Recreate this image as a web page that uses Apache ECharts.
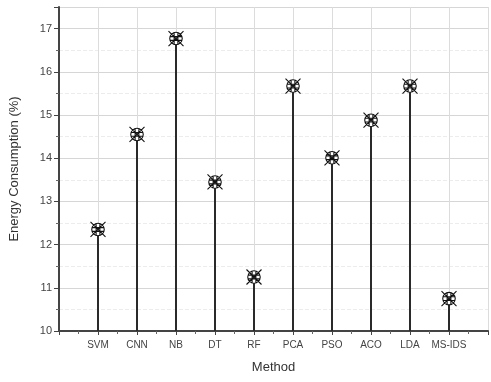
<!DOCTYPE html>
<html>
<head>
<meta charset="utf-8">
<script src="https://cdn.jsdelivr.net/npm/echarts@6/dist/echarts.min.js"></script>
<style>html,body{margin:0;padding:0;background:#fff}#c{width:491px;height:382px}</style>
</head>
<body>
<div id="c"></div>
<script>
const categories = ['SVM','CNN','NB','DT','RF','PCA','PSO','ACO','LDA','MS-IDS'];
const energy = [12.35, 14.55, 16.77, 13.45, 11.25, 15.67, 14.01, 14.88, 15.67, 10.75];
const yTicks = [10, 11, 12, 13, 14, 15, 16, 17];

const pts = categories.map((c, i) => [i + 1, energy[i]]);
const markerPath = 'path://M8 3 A5 5 0 1 1 7.99 3 Z M2 2 L14 14 M14 2 L2 14 M3.2 6.5 L12.8 6.5 M3.2 9.5 L12.8 9.5 M6.5 3.2 L6.5 12.8 M9.5 3.2 L9.5 12.8';

const chart = echarts.init(document.getElementById('c'));
chart.setOption({
  animation: false,
  backgroundColor: '#fff',
  grid: { left: 57, top: 7, right: -6, bottom: 51 },
  xAxis: {
    type: 'value', min: 0, max: 11, interval: 1,
    name: 'Method', nameLocation: 'middle', nameGap: 30,
    nameTextStyle: { fontFamily: 'Liberation Sans, Arial', fontSize: 13, color: '#333' },
    axisLine: { show: true, lineStyle: { color: '#444', width: 2 } },
    axisTick: { show: true, length: 4, lineStyle: { color: '#444', width: 1 } },
    minorTick: { show: true, splitNumber: 2, length: 3, lineStyle: { color: '#666' } },
    axisLabel: {
      margin: 9, fontFamily: 'Liberation Sans, Arial', fontSize: 10, color: '#444',
      formatter: v => (v >= 1 && v <= categories.length && Number.isInteger(v)) ? categories[v - 1] : ''
    },
    splitLine: { show: true, lineStyle: { color: '#dcdcdc', width: 1 } }
  },
  yAxis: {
    type: 'value', min: 10, max: 17.5, interval: 1,
    name: 'Energy Consumption (%)', nameLocation: 'middle', nameGap: 38,
    nameTextStyle: { fontFamily: 'Liberation Sans, Arial', fontSize: 13, color: '#333' },
    axisLine: { show: true, lineStyle: { color: '#444', width: 2 } },
    axisTick: { show: true, length: 5, lineStyle: { color: '#444', width: 1 } },
    minorTick: { show: true, splitNumber: 2, length: 3, lineStyle: { color: '#666' } },
    axisLabel: {
      margin: 7, fontFamily: 'Liberation Sans, Arial', fontSize: 11, color: '#444',
      formatter: v => yTicks.includes(v) ? String(v) : ''
    },
    splitLine: { show: true, lineStyle: { color: '#d6d6d6', width: 1 } },
    minorSplitLine: { show: true, lineStyle: { color: '#ececec', width: 1, type: 'dashed' } }
  },
  series: [
    {
      type: 'bar', data: pts, barWidth: 2,
      itemStyle: { color: '#2a2a2a' }, z: 2
    },
    {
      type: 'scatter', data: pts, symbol: markerPath, symbolSize: 15,
      itemStyle: { color: '#fff', borderColor: '#111', borderWidth: 1.1, opacity: 1 }, z: 3
    }
  ]
});
</script>
</body>
</html>
